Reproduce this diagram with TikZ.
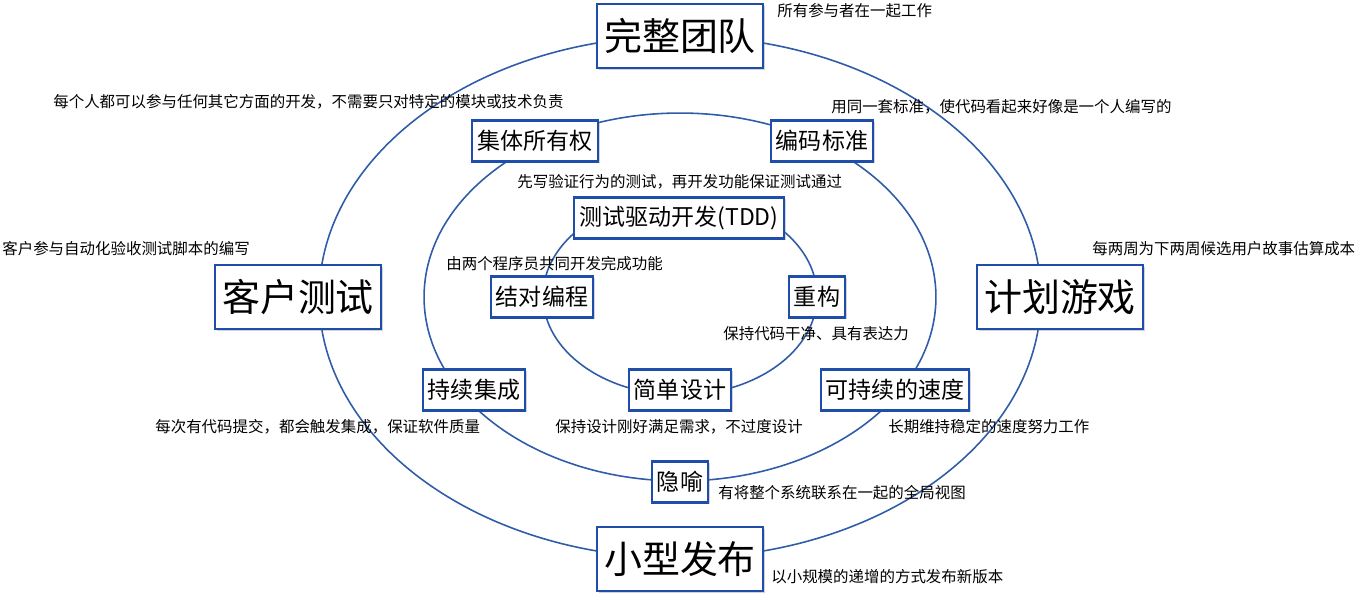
\documentclass[tikz,border=0pt]{standalone}
\usepackage{fontspec}
\setmainfont{Noto Sans CJK SC}
\usepackage{tikz}
\usetikzlibrary{shadows}
\definecolor{ringblue}{HTML}{2F5CA8}
\definecolor{boxblue}{HTML}{1F4DAA}

\begin{document}
\begin{tikzpicture}[x=0.02cm,y=-0.02cm,
    ring/.style={draw=ringblue,line width=0.9pt},
    box/.style={draw=boxblue,line width=1.2pt,fill=white,
      drop shadow={shadow xshift=1pt,shadow yshift=-1pt,opacity=0.35},
      inner xsep=3pt,minimum height=0.82cm,font=\fontsize{13.1}{15}\selectfont},
    bigbox/.style={box,inner xsep=4pt,minimum height=1.28cm,font=\fontsize{21.6}{24}\selectfont},
    note/.style={anchor=west,inner sep=0pt,font=\fontsize{8.8}{10}\selectfont}]
    \useasboundingbox (0,0) rectangle (1367,600);
    % three rings
    \draw[ring] (680,297) ellipse [x radius=7.22cm, y radius=5.22cm];
    \draw[ring] (680,297) ellipse [x radius=5.12cm, y radius=3.68cm];
    \draw[ring] (680,296) ellipse [x radius=2.74cm, y radius=1.98cm];
    % outer ring
    \node[bigbox] (team) at (680,36) {完整团队};
    \node[bigbox] (customer) at (298,297) {客户测试};
    \node[bigbox] (planning) at (1060,297) {计划游戏};
    \node[bigbox] (release) at (680,559) {小型发布};
    % middle ring
    \node[box] (owner) at (535,141) {集体所有权};
    \node[box] (standard) at (822,141) {编码标准};
    \node[box] (ci) at (474,390) {持续集成};
    \node[box] (pace) at (895,390) {可持续的速度};
    \node[box] (metaphor) at (680,482) {隐喻};
    % inner ring
    \node[box] (tdd) at (679,218) {测试驱动开发(TDD)};
    \node[box] (pair) at (542,297) {结对编程};
    \node[box] (refactor) at (817,297) {重构};
    \node[box] (simple) at (680,390) {简单设计};
    % notes
    \node[note] (teamnote) at (777,11) {所有参与者在一起工作};
    \node[note] (ownernote) at (53,102) {每个人都可以参与任何其它方面的开发，不需要只对特定的模块或技术负责};
    \node[note] (standardnote) at (831,107) {用同一套标准，使代码看起来好像是一个人编写的};
    \node[note] (tddnote) at (517,182) {先写验证行为的测试，再开发功能保证测试通过};
    \node[note] (customernote) at (2,249) {客户参与自动化验收测试脚本的编写};
    \node[note] (planningnote) at (1092,249) {每两周为下两周候选用户故事估算成本};
    \node[note] (pairnote) at (446,264) {由两个程序员共同开发完成功能};
    \node[note] (refactornote) at (723,334) {保持代码干净、具有表达力};
    \node[note] (cinote) at (155,427) {每次有代码提交，都会触发集成，保证软件质量};
    \node[note] (simplenote) at (555,427) {保持设计刚好满足需求，不过度设计};
    \node[note] (pacenote) at (888,427) {长期维持稳定的速度努力工作};
    \node[note] (metaphornote) at (718,493) {有将整个系统联系在一起的全局视图};
    \node[note] (releasenote) at (771,577) {以小规模的递增的方式发布新版本};
\end{tikzpicture}
\end{document}
